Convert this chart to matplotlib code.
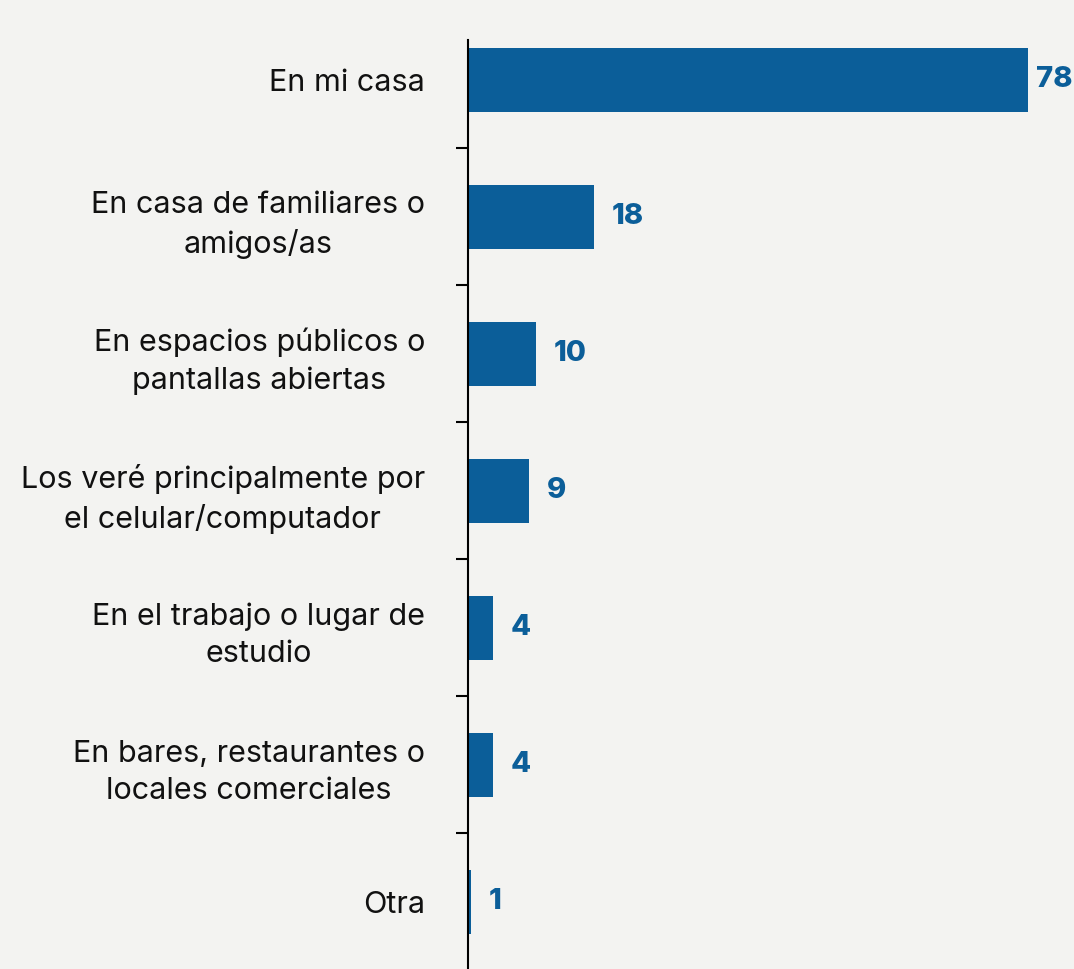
import matplotlib
matplotlib.use("Agg")
import matplotlib.pyplot as plt
from matplotlib.ticker import FixedLocator

categories = [
    "En mi casa",
    "En casa de familiares o\namigos/as",
    "En espacios públicos o\npantallas abiertas",
    "Los veré principalmente por\nel celular/computador",
    "En el trabajo o lugar de\nestudio",
    "En bares, restaurantes o\nlocales comerciales",
    "Otra",
]
values = [78, 18, 10, 9, 4, 4, 1]

BAR_COLOR = "#0b5e99"
BG = "#f3f3f1"

plt.rcParams['font.family'] = ['Inter', 'DejaVu Sans']

W, H = 1074, 969
fig = plt.figure(figsize=(W / 100, H / 100), dpi=100, facecolor=BG)
ax = fig.add_axes([468 / W, 0, 1 - 468 / W, 1 - 40 / H])
ax.set_facecolor(BG)

y = list(range(len(categories)))
ax.barh(y, values, height=0.467, color=BAR_COLOR, zorder=2)

ax.set_xlim(0.585, 84.36)
ax.set_ylim(6.49, -0.292)

ax.set_yticks(y)
ax.set_yticklabels(categories, fontsize=22, color="#111111", ma="center", linespacing=1.42)
ax.yaxis.set_minor_locator(FixedLocator([i + 0.5 for i in range(len(categories) - 1)]))
ax.tick_params(axis="y", which="major", length=0, pad=31)
ax.tick_params(axis="y", which="minor", length=8.5, width=1.5, color="black")
ax.set_xticks([])

for s in ["top", "right", "bottom"]:
    ax.spines[s].set_visible(False)
ax.spines["left"].set_linewidth(1.5)
ax.spines["left"].set_color("black")

vmax = max(values)
for yi, v in zip(y, values):
    off = 6.0 if v == vmax else 13
    ax.annotate(str(v), xy=(v, yi), xytext=(off, 0), textcoords="offset points",
                ha="left", va="center", fontsize=21, fontweight="heavy",
                color=BAR_COLOR, annotation_clip=False)

fig.savefig("out.png", dpi=100, facecolor=BG)
